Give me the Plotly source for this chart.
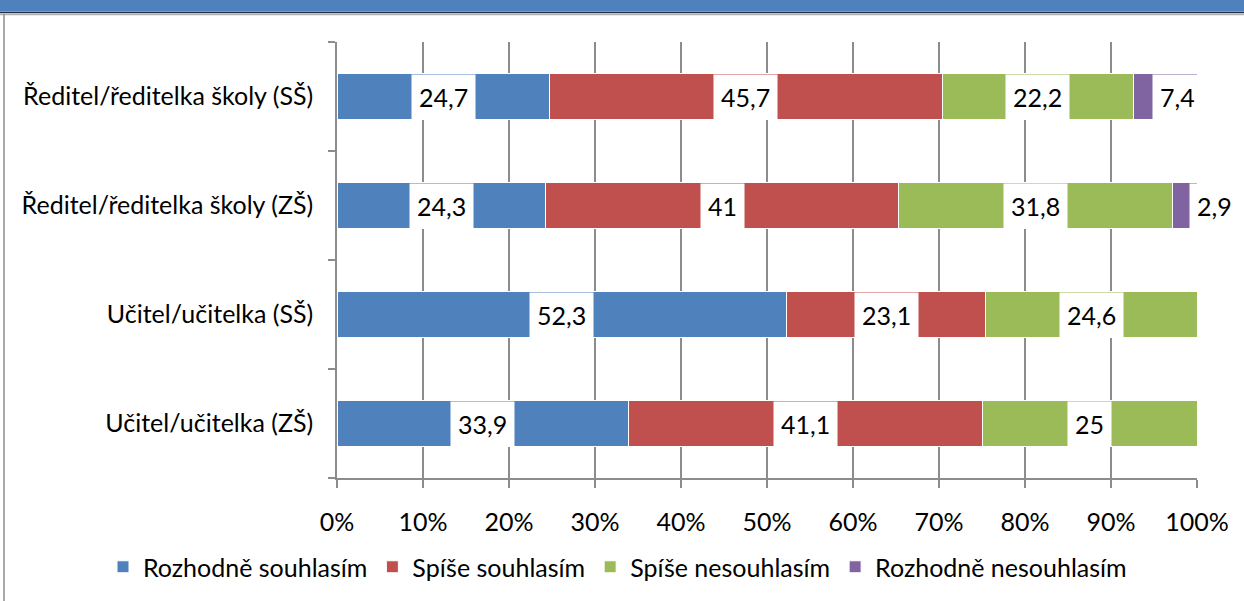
import plotly.graph_objects as go

categories = ["Ředitel/ředitelka školy (SŠ)", "Ředitel/ředitelka školy (ZŠ)",
              "Učitel/učitelka (SŠ)", "Učitel/učitelka (ZŠ)"]
series_names = ["Rozhodně souhlasím", "Spíše souhlasím", "Spíše nesouhlasím", "Rozhodně nesouhlasím"]
rozhodne_souhlasim = [24.7, 24.3, 52.3, 33.9]
spise_souhlasim = [45.7, 41.0, 23.1, 41.1]
spise_nesouhlasim = [22.2, 31.8, 24.6, 25.0]
rozhodne_nesouhlasim = [7.4, 2.9, None, None]
colors = ["#4F81BD", "#C0504D", "#9BBB59", "#8064A2"]
x_tick_vals = [0, 10, 20, 30, 40, 50, 60, 70, 80, 90, 100]
x_tick_text = [f"{v}%" for v in x_tick_vals]

series = [rozhodne_souhlasim, spise_souhlasim, spise_nesouhlasim, rozhodne_nesouhlasim]
FONT = "Lato, 'Open Sans', sans-serif"
FS = 25

fig = go.Figure()
for name, vals, col in zip(series_names, series, colors):
    fig.add_trace(go.Bar(
        y=categories, x=[v if v is not None else 0 for v in vals], name=name,
        orientation="h", marker=dict(color=col, line=dict(color="white", width=1)),
        hoverinfo="x+y"))

# data labels in white boxes at segment centres
for i, cat in enumerate(categories):
    cum = 0
    for vals in series:
        v = vals[i]
        if v is None:
            continue
        center = cum + v / 2
        cum += v
        txt = (f"{v:.1f}".rstrip("0").rstrip(".")).replace(".", ",")
        shift = 30 if center > 98 else (12 if center > 95 else 0)
        fig.add_annotation(x=center, y=cat, text=txt, showarrow=False, xshift=shift,
                           bgcolor="white", borderpad=7,
                           font=dict(family=FONT, size=FS, color="#000000"))

def py(p):
    return (478 - p) / 436

def px(p):
    return (p - 337) / 860

fig.update_layout(
    barmode="stack", bargap=0.58,
    width=1244, height=601,
    margin=dict(l=337, r=47, t=42, b=123, autoexpand=False),
    paper_bgcolor="white", plot_bgcolor="white",
    font=dict(family=FONT, size=FS, color="#000000"),
    legend=dict(orientation="h", x=px(103), xanchor="left", y=py(567), yanchor="middle",
                font=dict(family=FONT, size=FS), itemwidth=30, traceorder="normal"),
    showlegend=True,
)
fig.update_xaxes(range=[0, 100], tickvals=x_tick_vals, ticktext=x_tick_text,
                 showgrid=True, gridcolor="#8C8C8C", gridwidth=1.5,
                 showline=True, linecolor="#8C8C8C", linewidth=1.5,
                 ticks="outside", ticklen=8, tickcolor="#8C8C8C", tickwidth=1.5,
                 ticklabelstandoff=13, zeroline=False, fixedrange=True)
fig.update_yaxes(categoryorder="array", categoryarray=categories[::-1],
                 showline=True, linecolor="#8C8C8C", linewidth=1.5,
                 ticks="outside", ticklen=7, tickcolor="#8C8C8C", tickwidth=1.5,
                 tickson="boundaries", ticklabelstandoff=17, showgrid=False, fixedrange=True)

# chart frame and header band
fig.add_shape(type="rect", xref="paper", yref="paper", x0=px(-5), x1=px(1250), y0=py(11.5), y1=py(-5),
              fillcolor="#4F81BD", line=dict(width=0), layer="above")
fig.add_shape(type="line", xref="paper", yref="paper", x0=px(0), x1=px(1250), y0=py(12.5), y1=py(12.5),
              line=dict(color="#1F2F45", width=1.5))
fig.add_shape(type="line", xref="paper", yref="paper", x0=px(0), x1=px(1250), y0=py(14.5), y1=py(14.5),
              line=dict(color="#B0B0B0", width=1.5))
fig.add_shape(type="line", xref="paper", yref="paper", x0=px(4), x1=px(4), y0=py(14), y1=py(605),
              line=dict(color="#8C8C8C", width=1.5))

fig.write_html("out.html", config={"displayModeBar": False},
               post_script="document.body.style.margin='0';")
